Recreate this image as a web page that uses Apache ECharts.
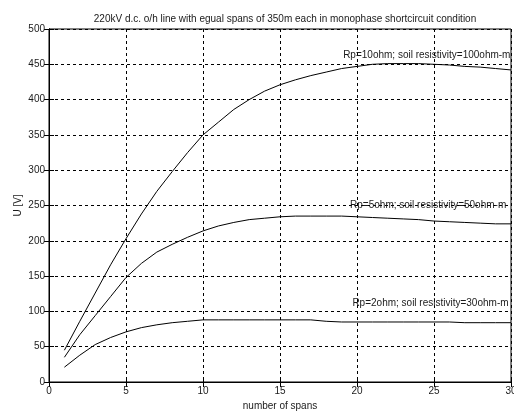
<!DOCTYPE html>
<html>
<head>
<meta charset="utf-8">
<script src="https://cdn.jsdelivr.net/npm/echarts@6/dist/echarts.min.js"></script>
<style>
html,body{margin:0;padding:0;background:#fff;}
#c{width:514px;height:415px;}
</style>
</head>
<body>
<div id="c"></div>
<script>
const spans = [1,2,3,4,5,6,7,8,9,10,11,12,13,14,15,16,17,18,19,20,21,22,23,24,25,26,27,28,29,30];
const uRp10 = [45,86,126,166,203,238,270,298,325,350,368,386,400,412,421,428,434,439,444,447,450,451,451,451,450,449,447,446,444,442];
const uRp5  = [35,67,94,121,148,168,184,195,205,214,221,226,230,232,234,235,235,235,235,234,233,232,231,230,228,227,226,225,224,224];
const uRp2  = [21,38,53,63,71,77,81,84,86,88,88,88,88,88,88,88,88,86,85,85,85,85,85,85,85,85,84,84,84,84];
const labels = [
  {text:'Rp=10ohm; soil resistivity=100ohm-m', x:19.1, y:463},
  {text:'Rp=5ohm; soil resistivity=50ohm-m', x:19.55, y:251},
  {text:'Rp=2ohm; soil resistivity=30ohm-m', x:19.7, y:112}
];
const titleText = '220kV d.c. o/h line with egual spans of 350m each in monophase shortcircuit condition';
const xName = 'number of spans';
const yName = 'U [V]';

const FONT = '"Liberation Sans Narrow", "Liberation Sans", Arial, sans-serif';
const TXT = '#1a1a1a';

function pairs(ys){ return spans.map((s,i)=>[s, ys[i]]); }
function mk(lbl){
  return {
    symbol:'circle', symbolSize:0, silent:true, animation:false,
    data:[{coord:[lbl.x,lbl.y], value:lbl.text}],
    label:{show:true, position:'right', distance:0, formatter:lbl.text,
      color:TXT, fontSize:10, fontFamily:FONT}
  };
}
const allSeries = [uRp10,uRp5,uRp2].map((ys,i)=>({
  type:'line', data:pairs(ys), symbol:'none', smooth:false,
  lineStyle:{color:'#000', width:1}, animation:false,
  markPoint: mk(labels[i])
}));

const chart = echarts.init(document.getElementById('c'), null, {renderer:'canvas'});
const axisLine = {show:true, lineStyle:{color:'#000', width:1}};
const split = {show:true, lineStyle:{color:'#000', type:[3,3], width:1}};
chart.setOption({
  backgroundColor:'#fff',
  animation:false,
  title:{text:titleText, left:280, top:9, textAlign:'center',
    textStyle:{fontSize:10, fontWeight:'normal', color:TXT, fontFamily:FONT}},
  grid:{left:49, right:3, top:29, bottom:33, show:true, borderColor:'#000', borderWidth:1,
    containLabel:false, outerBoundsMode:'none'},
  xAxis:[
    {type:'value', min:0, max:30, interval:5, position:'bottom',
     name:xName, nameLocation:'middle', nameGap:19, nameMoveOverlap:false,
     nameTextStyle:{fontSize:10, color:TXT, fontFamily:FONT},
     axisLine:axisLine, axisTick:{show:true, inside:true, length:5, lineStyle:{color:'#000'}},
     axisLabel:{fontSize:10, color:TXT, fontFamily:FONT, margin:4},
     splitLine:split},
    {type:'value', min:0, max:30, interval:5, position:'top',
     axisLine:axisLine, axisTick:{show:true, inside:true, length:5, lineStyle:{color:'#000'}},
     axisLabel:{show:false}, splitLine:{show:false}}
  ],
  yAxis:[
    {type:'value', min:0, max:500, interval:50, position:'left',
     name:yName, nameLocation:'middle', nameGap:26, nameMoveOverlap:false,
     nameTextStyle:{fontSize:10, color:TXT, fontFamily:FONT},
     axisLine:axisLine, axisTick:{show:true, inside:true, length:5, lineStyle:{color:'#000'}},
     axisLabel:{fontSize:10, color:TXT, fontFamily:FONT, margin:4},
     splitLine:split},
    {type:'value', min:0, max:500, interval:50, position:'right',
     axisLine:axisLine, axisTick:{show:true, inside:true, length:5, lineStyle:{color:'#000'}},
     axisLabel:{show:false}, splitLine:{show:false}}
  ],
  series: allSeries
});
</script>
</body>
</html>
